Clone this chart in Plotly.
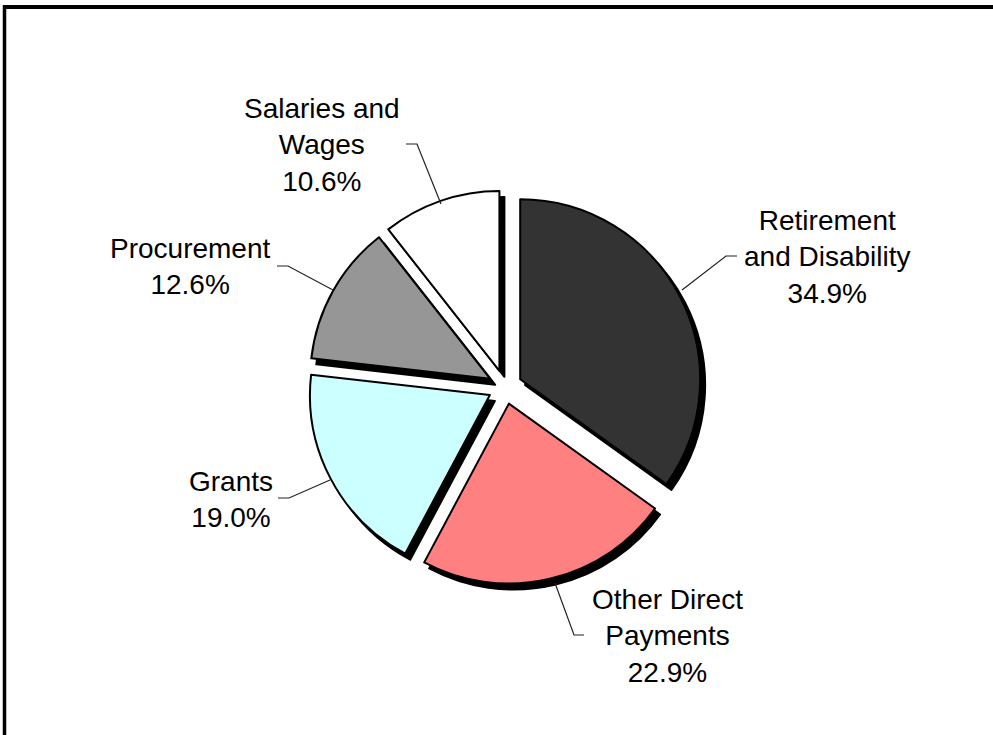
import plotly.graph_objects as go

# Outlay categories and their shares (percent of total)
categories = ["Retirement and Disability", "Other Direct Payments", "Grants",
              "Procurement", "Salaries and Wages"]
shares = [34.9, 22.9, 19.0, 12.6, 10.6]
label_text = ["Retirement<br>and Disability", "Other Direct<br>Payments", "Grants",
              "Procurement", "Salaries and<br>Wages"]
colors = ["#333333", "#FF8080", "#CCFFFF", "#969696", "#FFFFFF"]

W, H = 993, 735


def px(x):
    return x / W


def py(y):
    return 1 - y / H


# Pie box (pixels): centre and side length, pull as a fraction of radius
CX, CY, SIDE = 505, 387, 394
PULL = 0.095
SHADOW_DX, SHADOW_DY = 5, 6


def domain(dx=0, dy=0):
    return dict(x=[px(CX + dx - SIDE / 2), px(CX + dx + SIDE / 2)],
                y=[py(CY + dy + SIDE / 2), py(CY + dy - SIDE / 2)])


fig = go.Figure()

# Drop shadow: an identical black pie drawn slightly down and right
fig.add_trace(go.Pie(
    labels=categories, values=shares, sort=False, direction="clockwise",
    rotation=0, pull=[PULL] * len(shares), textinfo="none", hoverinfo="skip",
    marker=dict(colors=["#000000"] * len(shares), line=dict(color="#000000", width=2)),
    domain=domain(SHADOW_DX, SHADOW_DY), showlegend=False,
))

# Main exploded pie
fig.add_trace(go.Pie(
    labels=categories, values=shares, sort=False, direction="clockwise",
    rotation=0, pull=[PULL] * len(shares), textinfo="none",
    marker=dict(colors=colors, line=dict(color="#000000", width=2)),
    domain=domain(), showlegend=False,
))

# Label blocks: centre positions in pixels
label_pos = {
    "Retirement and Disability": (827, 257),
    "Other Direct Payments": (667, 636),
    "Grants": (231, 499),
    "Procurement": (190, 266),
    "Salaries and Wages": (322, 145),
}
# Leader lines: label end -> elbow -> slice edge (pixels)
leaders = {
    "Retirement and Disability": [(737, 256), (726, 256), (682, 290)],
    "Other Direct Payments": [(584, 635), (574, 635), (555, 583)],
    "Grants": [(278, 498), (289, 498), (330, 480)],
    "Procurement": [(277, 266), (288, 266), (333, 290)],
    "Salaries and Wages": [(406, 144), (417, 144), (441, 204)],
}

annotations = []
shapes = []
for cat, txt, val in zip(categories, label_text, shares):
    x, y = label_pos[cat]
    annotations.append(dict(
        x=px(x), y=py(y), xref="paper", yref="paper",
        text=f"{txt}<br>{val:.1f}%", showarrow=False,
        xanchor="center", yanchor="middle", align="center",
        font=dict(family="Liberation Sans, Arial, sans-serif", size=28, color="#000000"),
    ))
    pts = leaders[cat]
    path = "M " + " L ".join(f"{px(a)},{py(b)}" for a, b in pts)
    shapes.append(dict(type="path", xref="paper", yref="paper", path=path,
                       line=dict(color="#222222", width=1.2)))

# Frame around the chart area (runs off the right and bottom edges)
shapes.append(dict(type="line", xref="paper", yref="paper",
                   x0=px(4.5), y0=py(7), x1=px(1000), y1=py(7),
                   line=dict(color="#000000", width=4)))
shapes.append(dict(type="line", xref="paper", yref="paper",
                   x0=px(4.5), y0=py(5), x1=px(4.5), y1=py(760),
                   line=dict(color="#000000", width=3.5)))

fig.update_layout(
    width=W, height=H,
    margin=dict(l=0, r=0, t=0, b=0),
    paper_bgcolor="#FFFFFF", plot_bgcolor="#FFFFFF",
    annotations=annotations, shapes=shapes,
    showlegend=False,
)

fig.write_html("out.html", config={"displayModeBar": False})
